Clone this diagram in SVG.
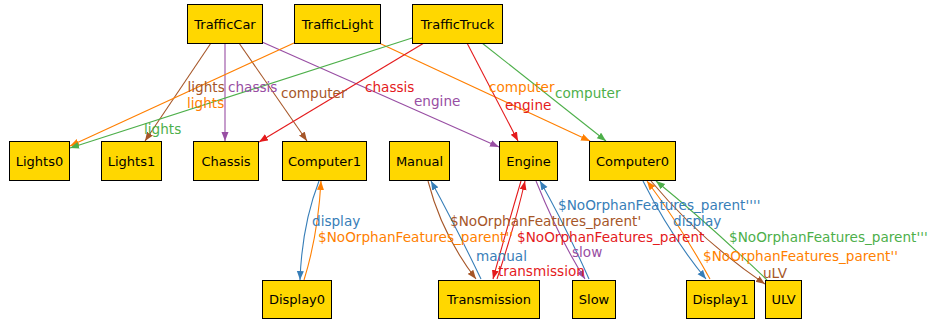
<svg xmlns="http://www.w3.org/2000/svg" width="928" height="320" viewBox="0 0 928 320">
<style>
.n rect{fill:#ffd700;stroke:#000;stroke-width:1}
.n text{font-family:"DejaVu Sans",sans-serif;font-size:13px;fill:#000;text-anchor:middle}
.e path{fill:none;stroke-width:1.1}
.l{font-family:"DejaVu Sans",sans-serif;font-size:13.6px}
.red{stroke:#e41a1c}.blue{stroke:#377eb8}.green{stroke:#4daf4a}.purple{stroke:#984ea3}.orange{stroke:#ff7f00}.brown{stroke:#a65628}
</style>
<defs>
<marker id="ared" markerUnits="userSpaceOnUse" markerWidth="10" markerHeight="8" refX="9" refY="3.5" orient="auto"><path d="M0,0 L9,3.5 L0,7 z" fill="#e41a1c"/></marker>
<marker id="ablue" markerUnits="userSpaceOnUse" markerWidth="10" markerHeight="8" refX="9" refY="3.5" orient="auto"><path d="M0,0 L9,3.5 L0,7 z" fill="#377eb8"/></marker>
<marker id="agreen" markerUnits="userSpaceOnUse" markerWidth="10" markerHeight="8" refX="9" refY="3.5" orient="auto"><path d="M0,0 L9,3.5 L0,7 z" fill="#4daf4a"/></marker>
<marker id="apurple" markerUnits="userSpaceOnUse" markerWidth="10" markerHeight="8" refX="9" refY="3.5" orient="auto"><path d="M0,0 L9,3.5 L0,7 z" fill="#984ea3"/></marker>
<marker id="aorange" markerUnits="userSpaceOnUse" markerWidth="10" markerHeight="8" refX="9" refY="3.5" orient="auto"><path d="M0,0 L9,3.5 L0,7 z" fill="#ff7f00"/></marker>
<marker id="abrown" markerUnits="userSpaceOnUse" markerWidth="10" markerHeight="8" refX="9" refY="3.5" orient="auto"><path d="M0,0 L9,3.5 L0,7 z" fill="#a65628"/></marker>
</defs>
<rect width="928" height="320" fill="#fff"/>
<g id="edges" class="e">
<path class="brown" d="M211,43 L145,141" marker-end="url(#abrown)"/>
<path class="purple" d="M225,43 L225,141" marker-end="url(#apurple)"/>
<path class="brown" d="M239,43 L307,141" marker-end="url(#abrown)"/>
<path class="purple" d="M262,42 L499,147" marker-end="url(#apurple)"/>
<path class="orange" d="M294,43 L70,146" marker-end="url(#aorange)"/>
<path class="orange" d="M379,43 L590,141" marker-end="url(#aorange)"/>
<path class="green" d="M412,38 L70,148" marker-end="url(#agreen)"/>
<path class="red" d="M424,43 L259,142" marker-end="url(#ared)"/>
<path class="red" d="M467,43 L518,141" marker-end="url(#ared)"/>
<path class="green" d="M482,43 L606,141" marker-end="url(#agreen)"/>
<path class="blue" d="M319,181 Q302,225 300,280" marker-end="url(#ablue)"/>
<path class="orange" d="M304,280 Q318,235 321,181" marker-end="url(#aorange)"/>
<path class="brown" d="M428,181 Q442,235 476,279" marker-end="url(#abrown)"/>
<path class="blue" d="M481,279 Q455,225 431,181" marker-end="url(#ablue)"/>
<path class="red" d="M521,181 Q505,235 493,279" marker-end="url(#ared)"/>
<path class="red" d="M497,279 Q515,225 525,181" marker-end="url(#ared)"/>
<path class="purple" d="M536,181 Q560,240 585,279" marker-end="url(#apurple)"/>
<path class="blue" d="M589,279 Q565,225 540,181" marker-end="url(#ablue)"/>
<path class="blue" d="M643,181 Q670,235 706,279" marker-end="url(#ablue)"/>
<path class="orange" d="M710,279 Q680,225 647,181" marker-end="url(#aorange)"/>
<path class="brown" d="M651,181 Q700,240 765,284" marker-end="url(#abrown)"/>
<path class="green" d="M767,280 Q710,225 656,181" marker-end="url(#agreen)"/>
</g>
<g id="labels" class="l">
<text x="187.5" y="91.5" fill="#a65628">lights</text>
<text x="228" y="91.5" fill="#984ea3">chassis</text>
<text x="281" y="98" fill="#a65628">computer</text>
<text x="187" y="107.5" fill="#ff7f00">lights</text>
<text x="144" y="134" fill="#4daf4a">lights</text>
<text x="365" y="92" fill="#e41a1c">chassis</text>
<text x="414" y="106" fill="#984ea3">engine</text>
<text x="489" y="92" fill="#ff7f00">computer</text>
<text x="505" y="110" fill="#e41a1c">engine</text>
<text x="555" y="98" fill="#4daf4a">computer</text>
<text x="312" y="226" fill="#377eb8">display</text>
<text x="318" y="242" fill="#ff7f00">$NoOrphanFeatures_parent''</text>
<text x="450" y="226" fill="#a65628">$NoOrphanFeatures_parent'</text>
<text x="517" y="241.5" fill="#e41a1c">$NoOrphanFeatures_parent</text>
<text x="476" y="261" fill="#377eb8">manual</text>
<text x="498" y="276" fill="#e41a1c">transmission</text>
<text x="558" y="210" fill="#377eb8">$NoOrphanFeatures_parent''''</text>
<text x="572" y="257" fill="#984ea3">slow</text>
<text x="673" y="226" fill="#377eb8">display</text>
<text x="729" y="242" fill="#4daf4a">$NoOrphanFeatures_parent'''</text>
<text x="703" y="261" fill="#ff7f00">$NoOrphanFeatures_parent''</text>
<text x="763" y="278" fill="#a65628">uLV</text>
</g>
<g id="TrafficCar" class="n"><rect x="187.5" y="4.5" width="75" height="39"/><text x="225" y="28.5">TrafficCar</text></g>
<g id="TrafficLight" class="n"><rect x="294.5" y="4.5" width="86" height="39"/><text x="337.5" y="28.5">TrafficLight</text></g>
<g id="TrafficTruck" class="n"><rect x="412.5" y="4.5" width="90" height="39"/><text x="457.5" y="28.5">TrafficTruck</text></g>
<g id="Lights0" class="n"><rect x="9.5" y="141.5" width="60" height="39"/><text x="39.5" y="165.5">Lights0</text></g>
<g id="Lights1" class="n"><rect x="101.5" y="141.5" width="60" height="39"/><text x="131.5" y="165.5">Lights1</text></g>
<g id="Chassis" class="n"><rect x="193.5" y="141.5" width="65" height="39"/><text x="226" y="165.5">Chassis</text></g>
<g id="Computer1" class="n"><rect x="282.5" y="141.5" width="84" height="39"/><text x="324.5" y="165.5">Computer1</text></g>
<g id="Manual" class="n"><rect x="389.5" y="141.5" width="60" height="39"/><text x="419.5" y="165.5">Manual</text></g>
<g id="Engine" class="n"><rect x="499.5" y="141.5" width="58" height="39"/><text x="528.5" y="165.5">Engine</text></g>
<g id="Computer0" class="n"><rect x="589.5" y="141.5" width="86" height="39"/><text x="632.5" y="165.5">Computer0</text></g>
<g id="Display0" class="n"><rect x="262.5" y="280.5" width="69" height="38"/><text x="297" y="304">Display0</text></g>
<g id="Transmission" class="n"><rect x="438.5" y="280.5" width="101" height="38"/><text x="489" y="304">Transmission</text></g>
<g id="Slow" class="n"><rect x="572.5" y="280.5" width="43" height="38"/><text x="594" y="304">Slow</text></g>
<g id="Display1" class="n"><rect x="686.5" y="280.5" width="68" height="38"/><text x="720.5" y="304">Display1</text></g>
<g id="ULV" class="n"><rect x="765.5" y="280.5" width="36" height="38"/><text x="783.5" y="304">ULV</text></g>
</svg>
